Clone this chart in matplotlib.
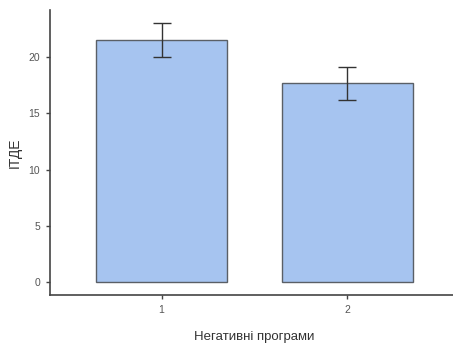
import matplotlib.pyplot as plt

# Mean ІТДЕ per group with standard error
groups = ["1", "2"]
means = [21.5, 17.7]
errors = [1.5, 1.47]

plt.rcParams['font.family'] = ['Liberation Sans Narrow', 'Liberation Sans', 'DejaVu Sans']

fig = plt.figure(figsize=(4.53, 3.44), dpi=100)
# axes spans a bit past the right edge of the figure
ax = fig.add_axes([50 / 453, 1 - 295 / 344, 409 / 453, 285 / 344])

x = range(1, len(groups) + 1)
ax.bar(x, means, width=0.7, color="#a6c4f0", edgecolor="#5a5f66", linewidth=1.0, zorder=2)
ax.errorbar(x, means, yerr=errors, fmt="none", ecolor="#333333", elinewidth=1.0,
            capsize=6.5, capthick=1.0, zorder=3)

ax.set_xlim(0.4, 2.6)
ax.set_ylim(-1.15, 24.2)
ax.set_xticks(list(x))
ax.set_xticklabels(groups)
ax.set_yticks([0, 5, 10, 15, 20])

for side in ["top", "right"]:
    ax.spines[side].set_visible(False)
for side in ["left", "bottom"]:
    ax.spines[side].set_color("#444444")
    ax.spines[side].set_linewidth(1.2)

ax.tick_params(axis="both", length=3, width=1, color="#444444",
               labelsize=7.5, labelcolor="#555555", pad=4)

ax.set_ylabel("ІТДЕ", fontsize=10, color="#333333", labelpad=5)
ax.set_xlabel("Негативні програми", fontsize=9.5, color="#333333", labelpad=12)

fig.savefig("out.png", dpi=100)
